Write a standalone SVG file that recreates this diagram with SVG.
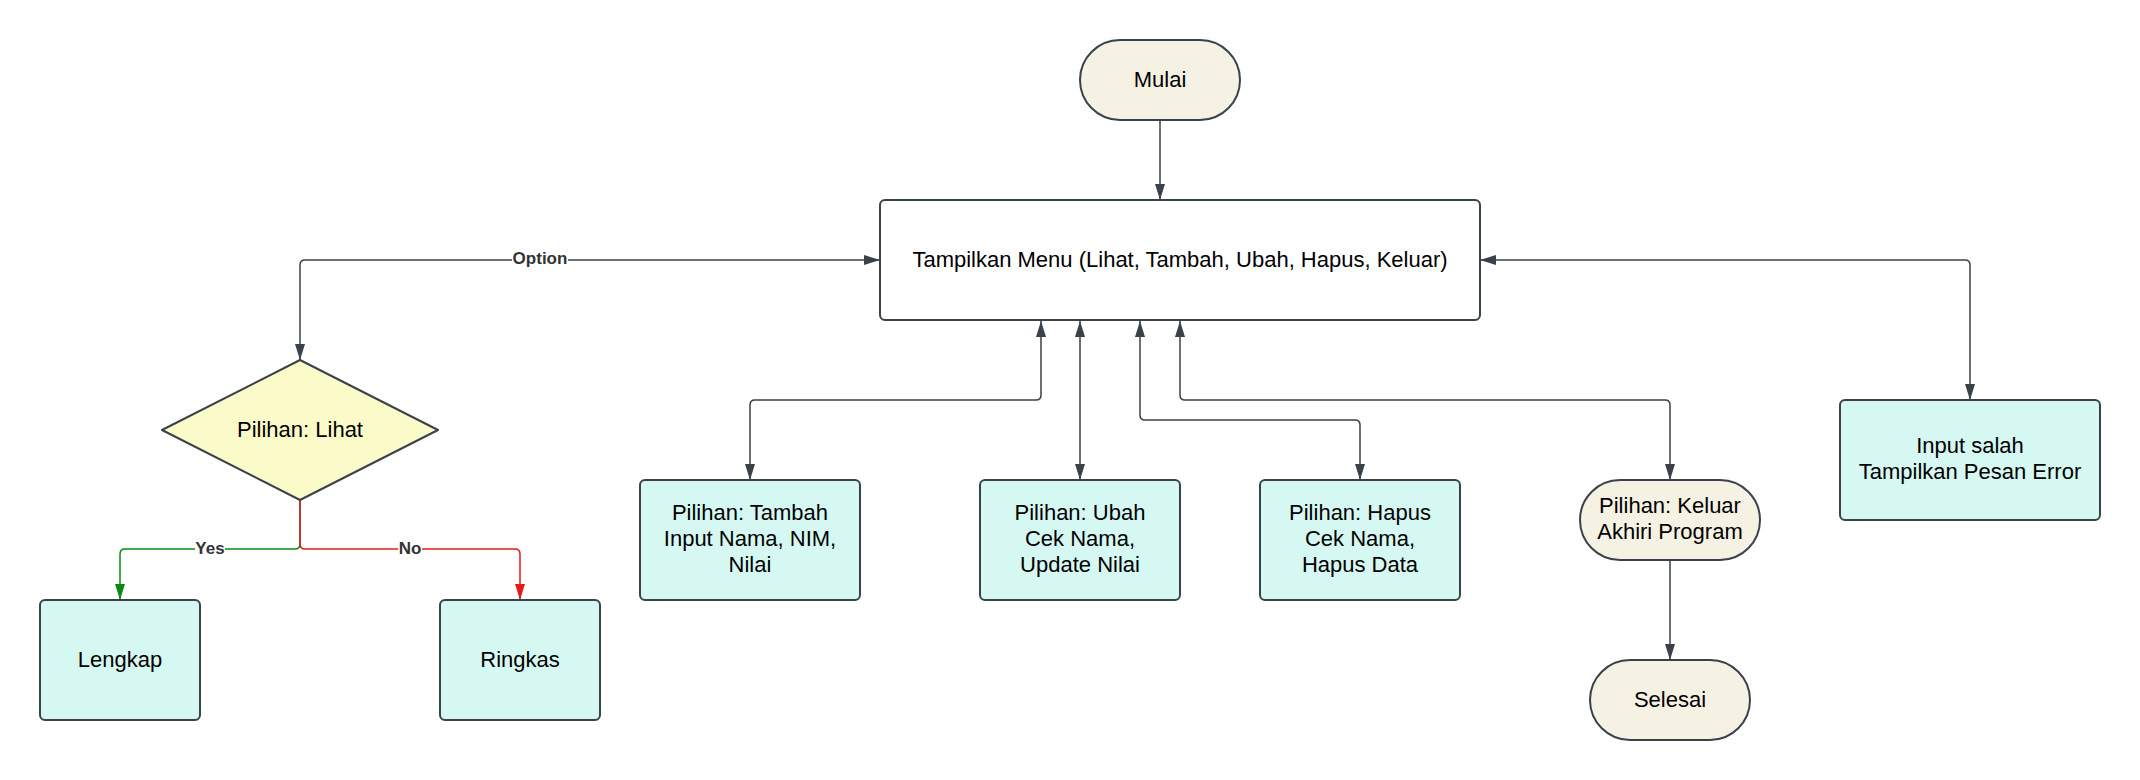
<svg xmlns="http://www.w3.org/2000/svg" width="2140" height="780" viewBox="0 0 2140 780">
<style>
  .shape { stroke: #3a414a; stroke-width: 2; }
  .term { fill: #f5f2e3; }
  .proc { fill: #d6f8f2; }
  .dec { fill: #fbfbca; }
  .t { font-family: "Liberation Sans", Arial, sans-serif; font-size: 22px; fill: #000; text-anchor: middle; dominant-baseline: central; }
  .lbl { font-family: "Liberation Sans", Arial, sans-serif; font-size: 17px; font-weight: bold; fill: #333; text-anchor: middle; dominant-baseline: central; }
  .c { fill: none; stroke: #3a414a; stroke-width: 1.5; }
  .cg { fill: none; stroke: #0a8a14; stroke-width: 1.5; }
  .cr { fill: none; stroke: #e31b1b; stroke-width: 1.5; }
</style>
<defs>
  <marker id="a" viewBox="0 0 16 10" refX="16" refY="5" markerWidth="16" markerHeight="10" markerUnits="userSpaceOnUse" orient="auto-start-reverse">
    <path d="M0,0 L16,5 L0,10 z" fill="#3a414a"/>
  </marker>
  <marker id="ag" viewBox="0 0 16 10" refX="16" refY="5" markerWidth="16" markerHeight="10" markerUnits="userSpaceOnUse" orient="auto-start-reverse">
    <path d="M0,0 L16,5 L0,10 z" fill="#0a8a14"/>
  </marker>
  <marker id="ar" viewBox="0 0 16 10" refX="16" refY="5" markerWidth="16" markerHeight="10" markerUnits="userSpaceOnUse" orient="auto-start-reverse">
    <path d="M0,0 L16,5 L0,10 z" fill="#e31b1b"/>
  </marker>
</defs>
<rect width="2140" height="780" fill="#ffffff"/>

<g id="connectors">
  <path class="c" d="M1160,120 V200" marker-end="url(#a)"/>
  <path class="c" d="M880,260 H305 Q300,260 300,265 V360" marker-start="url(#a)" marker-end="url(#a)"/>
  <path class="cg" d="M300,500 V544 Q300,549 295,549 H125 Q120,549 120,554 V600" marker-end="url(#ag)"/>
  <path class="cr" d="M300,500 V544 Q300,549 305,549 H515 Q520,549 520,554 V600" marker-end="url(#ar)"/>
  <path class="c" d="M1041,321 V395 Q1041,400 1036,400 H755 Q750,400 750,405 V480" marker-start="url(#a)" marker-end="url(#a)"/>
  <path class="c" d="M1080,321 V480" marker-start="url(#a)" marker-end="url(#a)"/>
  <path class="c" d="M1140,321 V415 Q1140,420 1145,420 H1355 Q1360,420 1360,425 V480" marker-start="url(#a)" marker-end="url(#a)"/>
  <path class="c" d="M1180,321 V395 Q1180,400 1185,400 H1665 Q1670,400 1670,405 V480" marker-start="url(#a)" marker-end="url(#a)"/>
  <path class="c" d="M1480,260 H1965 Q1970,260 1970,265 V400" marker-start="url(#a)" marker-end="url(#a)"/>
  <path class="c" d="M1670,560 V660" marker-end="url(#a)"/>
  <rect x="512" y="250" width="56" height="20" fill="#ffffff"/>
  <text class="lbl" x="540" y="258">Option</text>
  <rect x="195" y="539" width="30" height="20" fill="#ffffff"/>
  <text class="lbl" x="210" y="548">Yes</text>
  <rect x="398" y="539" width="24" height="20" fill="#ffffff"/>
  <text class="lbl" x="410" y="548">No</text>
</g>

<g id="mulai">
  <rect class="shape term" x="1080" y="40" width="160" height="80" rx="40" ry="40"/>
  <text class="t" x="1160" y="79">Mulai</text>
</g>

<g id="menu">
  <rect class="shape" fill="#ffffff" x="880" y="200" width="600" height="120" rx="5"/>
  <text class="t" x="1180" y="259">Tampilkan Menu (Lihat, Tambah, Ubah, Hapus, Keluar)</text>
</g>

<g id="lihat">
  <path class="shape dec" stroke-linejoin="round" d="M300,360 L438,430 L300,500 L162,430 Z"/>
  <text class="t" x="300" y="429">Pilihan: Lihat</text>
</g>

<g id="lengkap">
  <rect class="shape proc" x="40" y="600" width="160" height="120" rx="5"/>
  <text class="t" x="120" y="659">Lengkap</text>
</g>

<g id="ringkas">
  <rect class="shape proc" x="440" y="600" width="160" height="120" rx="5"/>
  <text class="t" x="520" y="659">Ringkas</text>
</g>

<g id="tambah">
  <rect class="shape proc" x="640" y="480" width="220" height="120" rx="5"/>
  <text class="t" x="750" y="512">Pilihan: Tambah</text>
  <text class="t" x="750" y="538">Input Nama, NIM,</text>
  <text class="t" x="750" y="564">Nilai</text>
</g>

<g id="ubah">
  <rect class="shape proc" x="980" y="480" width="200" height="120" rx="5"/>
  <text class="t" x="1080" y="512">Pilihan: Ubah</text>
  <text class="t" x="1080" y="538">Cek Nama,</text>
  <text class="t" x="1080" y="564">Update Nilai</text>
</g>

<g id="hapus">
  <rect class="shape proc" x="1260" y="480" width="200" height="120" rx="5"/>
  <text class="t" x="1360" y="512">Pilihan: Hapus</text>
  <text class="t" x="1360" y="538">Cek Nama,</text>
  <text class="t" x="1360" y="564">Hapus Data</text>
</g>

<g id="keluar">
  <rect class="shape term" x="1580" y="480" width="180" height="80" rx="40" ry="40"/>
  <text class="t" x="1670" y="505">Pilihan: Keluar</text>
  <text class="t" x="1670" y="531">Akhiri Program</text>
</g>

<g id="selesai">
  <rect class="shape term" x="1590" y="660" width="160" height="80" rx="40" ry="40"/>
  <text class="t" x="1670" y="699">Selesai</text>
</g>

<g id="error">
  <rect class="shape proc" x="1840" y="400" width="260" height="120" rx="5"/>
  <text class="t" x="1970" y="445">Input salah</text>
  <text class="t" x="1970" y="471">Tampilkan Pesan Error</text>
</g>
</svg>
